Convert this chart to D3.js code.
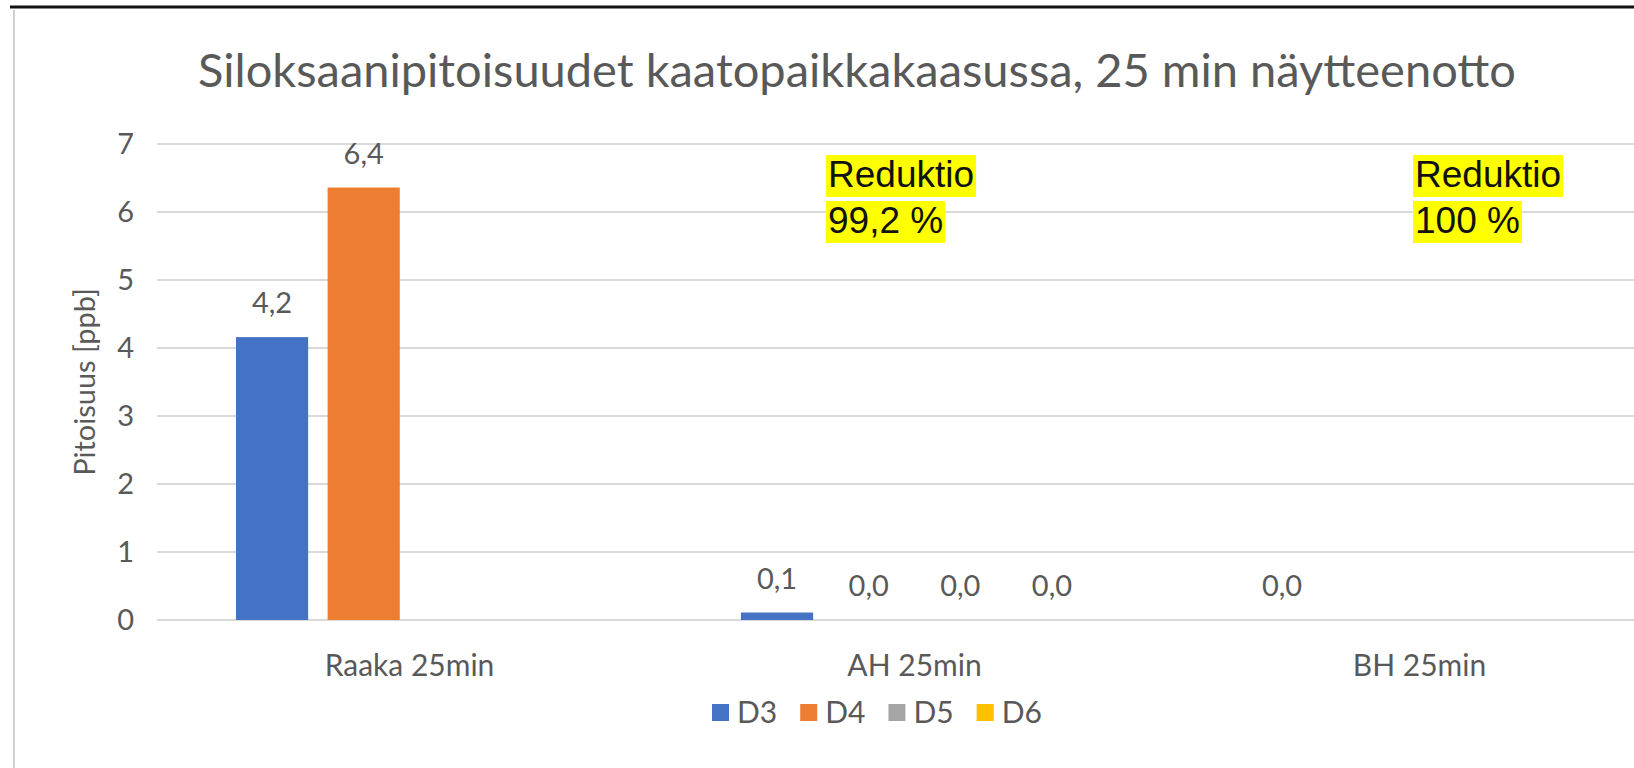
<!DOCTYPE html>
<html>
<head>
<meta charset="utf-8">
<script src="https://cdn.jsdelivr.net/npm/d3@7"></script>
<style>
  body { margin: 0; background: #fff; }
  svg { display: block; font-family: Lato, "Open Sans", sans-serif; }
</style>
</head>
<body>
<script>
var W = 1634, H = 768;

// data
var categories = ["Raaka 25min", "AH 25min", "BH 25min"];
var series = ["D3", "D4", "D5", "D6"];
var colors = ["#4472c4", "#ed7d31", "#a5a5a5", "#ffc000"];
var valsD3 = [4.16, 0.11, 0];
var valsD4 = [6.36, 0, null];
var valsD5 = [null, 0, null];
var valsD6 = [null, 0, null];
var yTicks = [0, 1, 2, 3, 4, 5, 6, 7];
var title = "Siloksaanipitoisuudet kaatopaikkakaasussa, 25 min näytteenotto";
var yTitle = "Pitoisuus [ppb]";
var note1 = ["Reduktio", "99,2 %"];
var note2 = ["Reduktio", "100 %"];

var allVals = [valsD3, valsD4, valsD5, valsD6];

var svg = d3.select("body").append("svg")
    .attr("width", W)
    .attr("height", H);

// chart frame
svg.append("line")
    .attr("x1", 14).attr("x2", 14).attr("y1", 10).attr("y2", H)
    .attr("stroke", "#d0d0d0").attr("stroke-width", 2);
svg.append("line")
    .attr("x1", 10).attr("x2", W).attr("y1", 7).attr("y2", 7)
    .attr("stroke", "#111").attr("stroke-width", 3);

var x0 = d3.scaleBand().domain(categories).range([157, 1672]);
var w = x0.bandwidth() / 7;
var x1 = d3.scaleBand().domain(series)
    .range([1.095 * w, x0.bandwidth() - 1.095 * w])
    .paddingInner(0.27 / 1.27);
var y = d3.scaleLinear().domain([0, 7]).range([620, 144]);

// gridlines
svg.append("g").selectAll("line")
    .data(yTicks)
    .enter().append("line")
    .attr("x1", 157).attr("x2", W)
    .attr("y1", function(d) { return y(d); })
    .attr("y2", function(d) { return y(d); })
    .attr("stroke", "#d9d9d9").attr("stroke-width", 2);

// y axis labels
var yAxis = svg.append("g")
    .attr("transform", "translate(134,0)")
    .call(d3.axisLeft(y).tickValues(yTicks).tickFormat(d3.format("d"))
      .tickSize(0).tickPadding(0));
yAxis.select(".domain").remove();
yAxis.selectAll("text")
    .attr("fill", "#595959")
    .style("font-size", "29px")
    .style("font-family", "Lato, sans-serif");

// x axis labels
var xAxis = svg.append("g")
    .attr("transform", "translate(0,620)")
    .call(d3.axisBottom(x0).tickSize(0).tickPadding(35));
xAxis.select(".domain").remove();
xAxis.selectAll("text")
    .attr("fill", "#595959")
    .style("font-size", "30px")
    .style("font-family", "Lato, sans-serif");

// bars
var fmt = d3.format(".1f");
var groups = svg.append("g").selectAll("g")
    .data(categories)
    .enter().append("g")
    .attr("transform", function(d) { return "translate(" + x0(d) + ",0)"; });

groups.each(function(cat, ci) {
  var g = d3.select(this);
  var rows = series.map(function(s, si) {
    return { s: s, v: allVals[si][ci], c: colors[si] };
  }).filter(function(r) { return r.v !== null; });

  g.selectAll("rect")
      .data(rows)
      .enter().append("rect")
      .attr("x", function(r) { return x1(r.s); })
      .attr("y", function(r) { return y(r.v); })
      .attr("width", x1.bandwidth())
      .attr("height", function(r) { return y(0) - y(r.v); })
      .attr("fill", function(r) { return r.c; });

  g.selectAll("text.lbl")
      .data(rows)
      .enter().append("text")
      .attr("class", "lbl")
      .attr("x", function(r) { return x1(r.s) + x1.bandwidth() / 2; })
      .attr("y", function(r) { return y(r.v) - 24; })
      .attr("text-anchor", "middle")
      .attr("fill", "#595959")
      .style("font-size", "29px")
      .text(function(r) { return fmt(r.v).replace(".", ","); });
});

// title
svg.append("text")
    .attr("x", 857).attr("y", 87)
    .attr("text-anchor", "middle")
    .attr("fill", "#595959")
    .style("font-size", "47px")
    .text(title);

// y title
svg.append("text")
    .attr("transform", "translate(95,382) rotate(-90)")
    .attr("text-anchor", "middle")
    .attr("fill", "#595959")
    .style("font-size", "29px")
    .text(yTitle);

// highlighted notes
function note(lines, x, yb) {
  var g = svg.append("g");
  lines.forEach(function(t, i) {
    var by = yb + i * 46;
    var bg = g.append("rect").attr("fill", "#ffff00");
    var tx = g.append("text")
        .attr("x", x).attr("y", by)
        .attr("fill", "#111")
        .style("font-family", "'Liberation Sans', Arial, sans-serif")
        .style("font-size", "37px")
        .text(t);
    var bb = tx.node().getBBox();
    bg.attr("x", x - 2).attr("y", by - 32)
      .attr("width", bb.width + 4).attr("height", 42);
  });
}
note(note1, 828, 187);
note(note2, 1415, 187);

// legend
var legend = svg.append("g").attr("transform", "translate(712,713)");
var lx = 0;
series.forEach(function(s, i) {
  var item = legend.append("g").attr("transform", "translate(" + lx + ",0)");
  item.append("rect")
      .attr("x", 0).attr("y", -9)
      .attr("width", 17).attr("height", 17)
      .attr("fill", colors[i]);
  var t = item.append("text")
      .attr("x", 25).attr("y", 10)
      .attr("fill", "#595959")
      .style("font-size", "30px")
      .text(s);
  lx += 25 + t.node().getComputedTextLength() + 23;
});
</script>
</body>
</html>
